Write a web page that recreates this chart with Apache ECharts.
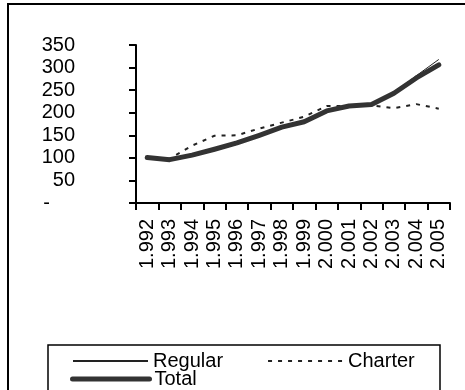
<!DOCTYPE html>
<html>
<head>
<meta charset="utf-8">
<script src="https://cdn.jsdelivr.net/npm/echarts@6/dist/echarts.min.js"></script>
<style>
  html, body { margin: 0; padding: 0; background: #fff; }
  #chart { width: 465px; height: 390px; }
</style>
</head>
<body>
<div id="chart"></div>
<script>
// years as printed on the axis (thousands separator style)
const years = ['1.992', '1.993', '1.994', '1.995', '1.996', '1.997', '1.998',
               '1.999', '2.000', '2.001', '2.002', '2.003', '2.004', '2.005'];
const regular = [100, 97, 103, 116, 130, 149, 167, 179, 203, 215, 218, 245, 282, 318];
const charter = [100, 98, 127, 149, 150, 165, 178, 191, 215, 215, 216, 210, 219, 209];
const total   = [101, 96, 106, 119, 133, 150, 168, 180, 204, 215, 218, 243, 277, 306];

const font = 'Liberation Sans, Arial, sans-serif';
const legendText = {fontFamily: font, fontSize: 20, color: '#000'};

let chart = echarts.init(document.getElementById('chart'));
let option = {
    animation: false,
    graphic: [
        {   // outer frame
            type: 'rect',
            shape: {x: 8, y: 4, width: 470, height: 400},
            style: {fill: 'none', stroke: '#000', lineWidth: 2}
        },
        {   // legend frame
            type: 'rect',
            shape: {x: 48, y: 345, width: 392, height: 60},
            style: {fill: 'none', stroke: '#000', lineWidth: 1.5}
        }
    ],
    legend: [
        {
            data: ['Regular', 'Charter'],
            left: 72, top: 351, padding: 0,
            itemWidth: 75, itemHeight: 14, itemGap: 44,
            itemStyle: {opacity: 0},
            textStyle: legendText
        },
        {
            data: ['Total'],
            left: 70, top: 369, padding: 0,
            itemWidth: 77, itemHeight: 14,
            itemStyle: {opacity: 0},
            lineStyle: {width: 5},
            textStyle: legendText
        }
    ],
    grid: {left: 136, right: 15, top: 45, bottom: 187},
    xAxis: {
        type: 'category',
        data: years,
        boundaryGap: true,
        axisLine: {lineStyle: {color: '#000', width: 2}},
        axisTick: {show: true, length: 7, interval: 0, lineStyle: {color: '#000', width: 2}},
        axisLabel: {rotate: 90, margin: 16, interval: 0, color: '#000', fontFamily: font, fontSize: 20}
    },
    yAxis: {
        type: 'value',
        min: 0, max: 350, interval: 50,
        splitLine: {show: false},
        axisLine: {show: true, lineStyle: {color: '#000', width: 2}},
        axisTick: {show: true, length: 7, lineStyle: {color: '#000', width: 2}},
        axisLabel: {
            margin: 61, color: '#000', fontFamily: font, fontSize: 20,
            formatter: function (v) { return v === 0 ? '{d|-}' : String(v); },
            rich: {d: {fontFamily: font, fontSize: 20, color: '#000', padding: [0, 25, 0, 0]}}
        }
    },
    series: [
        {
            name: 'Regular', type: 'line', data: regular, symbol: 'none',
            lineStyle: {color: '#222', width: 1}, itemStyle: {color: '#222'}
        },
        {
            name: 'Charter', type: 'line', data: charter, symbol: 'none',
            lineStyle: {color: '#222', width: 2, type: [4, 6]}, itemStyle: {color: '#222'}
        },
        {
            name: 'Total', type: 'line', data: total, symbol: 'none',
            lineStyle: {color: '#333', width: 5, cap: 'round', join: 'round'}, itemStyle: {color: '#333'}
        }
    ]
};
chart.setOption(option);
</script>
</body>
</html>
